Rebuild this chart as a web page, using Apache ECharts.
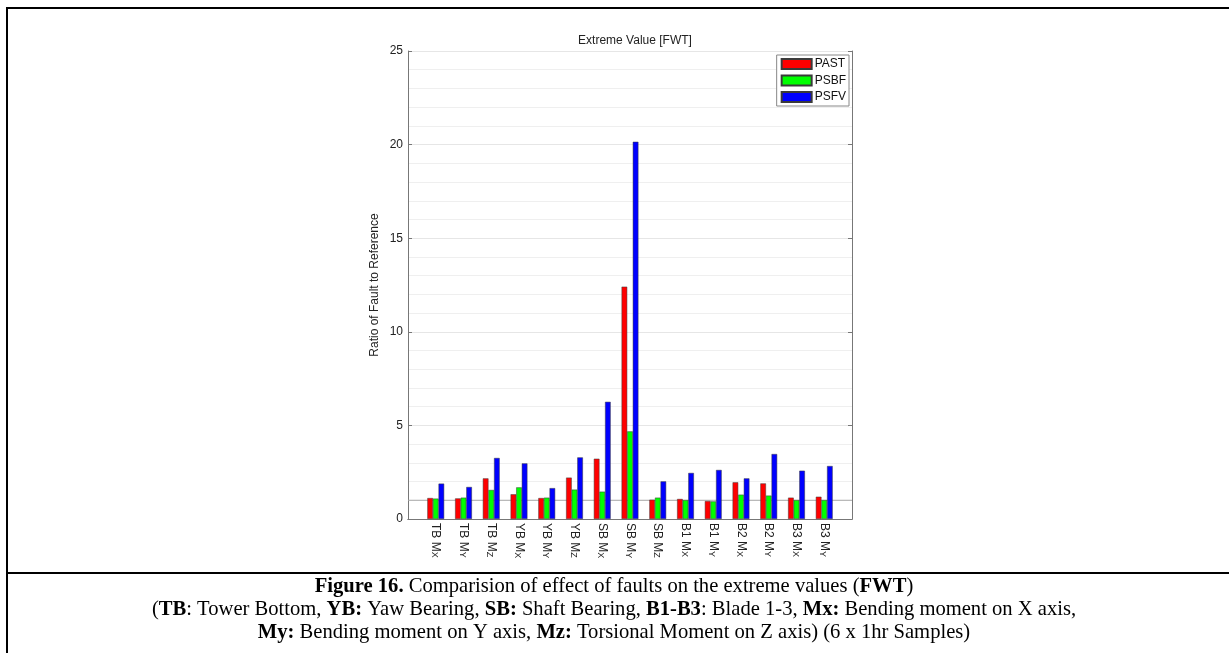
<!DOCTYPE html>
<html>
<head>
<meta charset="utf-8">
<script src="https://cdn.jsdelivr.net/npm/echarts@6/dist/echarts.min.js"></script>
<style>
  html, body { margin: 0; padding: 0; background: #fff; }
  #chart { width: 1229px; height: 653px; }
</style>
</head>
<body>
<div id="chart"></div>
<script>
// Load cases: last character of each name is drawn as a subscript
const categories = ['TB Mx', 'TB My', 'TB Mz', 'YB Mx', 'YB My', 'YB Mz', 'SB Mx', 'SB My', 'SB Mz',
                    'B1 Mx', 'B1 My', 'B2 Mx', 'B2 My', 'B3 Mx', 'B3 My'];
const seriesNames = ['PAST', 'PSBF', 'PSFV'];
const past = [1.12, 1.10, 2.17, 1.32, 1.12, 2.21, 3.22, 12.41, 1.03, 1.07, 0.96, 1.96, 1.90, 1.14, 1.19];
const psbf = [1.09, 1.14, 1.55, 1.69, 1.14, 1.57, 1.46, 4.68, 1.14, 1.01, 0.94, 1.30, 1.25, 1.01, 1.01];
const psfv = [1.89, 1.71, 3.26, 2.97, 1.65, 3.29, 6.26, 20.15, 2.01, 2.46, 2.62, 2.17, 3.47, 2.58, 2.83];
const yTicks = [0, 5, 10, 15, 20, 25];
const referenceRatio = 1;

const colors = ['#ff0000', '#00ff00', '#0000ff'];
const sans = 'Arial, "Liberation Sans", Helvetica, sans-serif';
const serif = '"Times New Roman", "Liberation Serif", serif';

// Empty slots at both ends so the groups sit at 1..15 on a 0..16 span
const axisCats = [''].concat(categories, ['']);
const pad = arr => [null].concat(arr, [null]);

const chart = echarts.init(document.getElementById('chart'), null, { renderer: 'canvas' });

const barSeries = [past, psbf, psfv].map((vals, i) => ({
  name: seriesNames[i],
  type: 'bar',
  data: pad(vals),
  barWidth: 5.6,
  barGap: '0%',
  z: 3,
  itemStyle: { color: colors[i], borderColor: '#3a3a3a', borderWidth: 0.5 }
}));

const captionRich = { b: { fontFamily: serif, fontSize: 20.6, fontWeight: 'bold', fill: '#000' } };
const captionLine = (text, y) => ({
  type: 'text', x: 614, y: y,
  style: {
    text: text,
    fontFamily: serif, fontSize: 20.6, fill: '#000', align: 'center', verticalAlign: 'middle',
    rich: captionRich
  }
});

const option = {
  backgroundColor: '#fff',
  animation: false,
  title: {
    text: 'Extreme Value [FWT]',
    left: 630,
    top: 30,
    textAlign: 'center',
    textStyle: { fontFamily: sans, fontSize: 12, fontWeight: 'normal', color: '#222' }
  },
  legend: {
    data: seriesNames,
    orient: 'vertical',
    right: 380,
    top: 55,
    icon: 'rect',
    itemWidth: 30,
    itemHeight: 10,
    itemGap: 4.5,
    padding: [3, 3, 3, 4],
    borderColor: '#888',
    borderWidth: 1,
    backgroundColor: '#fff',
    textStyle: { fontFamily: sans, fontSize: 12, color: '#111', padding: [0, 0, 0, -2] }
  },
  grid: { left: 408, right: 377, top: 51, bottom: 134 },
  xAxis: [{
    type: 'category',
    data: axisCats,
    boundaryGap: false,
    axisLine: { lineStyle: { color: '#777', width: 1 } },
    axisTick: { show: false },
    axisLabel: {
      interval: 0,
      rotate: -90,
      margin: 4,
      formatter: v => v ? '{b|' + v.slice(0, -1) + '}{s|' + v.slice(-1).toUpperCase() + '}' : '',
      rich: {
        b: { fontFamily: sans, fontSize: 12, color: '#222', lineHeight: 12, padding: [0, 0, 6, 0], verticalAlign: 'top' },
        s: { fontFamily: sans, fontSize: 9, color: '#222', lineHeight: 9, verticalAlign: 'bottom' }
      }
    },
    splitLine: { show: false }
  }, {
    type: 'category',
    data: axisCats,
    boundaryGap: false,
    position: 'top',
    axisLine: { lineStyle: { color: '#777', width: 1 } },
    axisTick: { show: false },
    axisLabel: { show: false },
    splitLine: { show: false }
  }],
  yAxis: [{
    type: 'value',
    min: yTicks[0],
    max: yTicks[yTicks.length - 1],
    interval: 5,
    name: 'Ratio of Fault to Reference',
    nameLocation: 'middle',
    nameGap: 27,
    nameRotate: 90,
    nameTextStyle: { fontFamily: sans, fontSize: 12, color: '#222' },
    axisLine: { show: true, lineStyle: { color: '#777', width: 1 } },
    axisTick: { show: true, inside: true, length: 4, lineStyle: { color: '#777' } },
    axisLabel: { fontFamily: sans, fontSize: 12, color: '#222', margin: 5 },
    splitLine: { show: true, lineStyle: { color: '#e6e6e6', width: 1 } },
    minorTick: { show: false, splitNumber: 5 },
    minorSplitLine: { show: true, lineStyle: { color: '#efefef', width: 1 } }
  }, {
    type: 'value',
    position: 'right',
    min: yTicks[0],
    max: yTicks[yTicks.length - 1],
    interval: 5,
    axisLine: { show: true, lineStyle: { color: '#777', width: 1 } },
    axisTick: { show: true, inside: true, length: 4, lineStyle: { color: '#777' } },
    axisLabel: { show: false },
    splitLine: { show: false }
  }],
  series: barSeries.concat([{
    // unit-ratio reference line across the whole span, beneath the bars
    name: 'reference',
    type: 'line',
    data: axisCats.map(() => referenceRatio),
    z: 1,
    silent: true,
    showSymbol: false,
    symbol: 'none',
    lineStyle: { color: '#a8a8a8', type: 'solid', width: 1 },
    emphasis: { disabled: true }
  }]),
  graphic: [
    { type: 'line', shape: { x1: 7, y1: 8, x2: 1229, y2: 8 }, style: { stroke: '#000', lineWidth: 2 } },
    { type: 'line', shape: { x1: 7, y1: 7, x2: 7, y2: 653 }, style: { stroke: '#000', lineWidth: 2 } },
    { type: 'line', shape: { x1: 7, y1: 573, x2: 1229, y2: 573 }, style: { stroke: '#000', lineWidth: 2 } },
    captionLine('{b|Figure 16.} Comparision of effect of faults on the extreme values ({b|FWT})', 587),
    captionLine('({b|TB}: Tower Bottom, {b|YB:} Yaw Bearing, {b|SB:} Shaft Bearing, {b|B1-B3}: Blade 1-3, {b|Mx:} Bending moment on X axis,', 610),
    captionLine('{b|My:} Bending moment on Y axis, {b|Mz:} Torsional Moment on Z axis) (6 x 1hr Samples)', 633)
  ]
};

chart.setOption(option);
</script>
</body>
</html>
